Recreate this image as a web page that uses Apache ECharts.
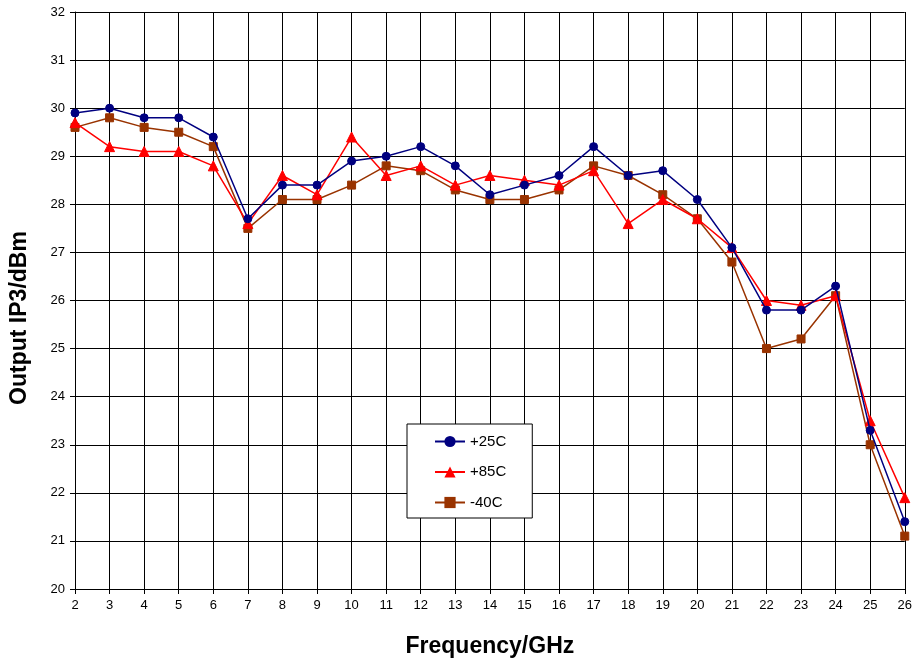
<!DOCTYPE html>
<html>
<head>
<meta charset="utf-8">
<script src="https://cdn.jsdelivr.net/npm/echarts@6/dist/echarts.min.js"></script>
<style>html,body{margin:0;padding:0;background:#fff;}#c{width:915px;height:665px;}</style>
</head>
<body>
<div id="c"></div>
<script>
const freq = [2,3,4,5,6,7,8,9,10,11,12,13,14,15,16,17,18,19,20,21,22,23,24,25,26];
const s25 = [29.9,30.0,29.8,29.8,29.4,27.7,28.4,28.4,28.9,29.0,29.2,28.8,28.2,28.4,28.6,29.2,28.6,28.7,28.1,27.1,25.8,25.8,26.3,23.3,21.4];
const s85 = [29.7,29.2,29.1,29.1,28.8,27.6,28.6,28.2,29.4,28.6,28.8,28.4,28.6,28.5,28.4,28.7,27.6,28.1,27.7,27.1,26.0,25.9,26.1,23.5,21.9];
const sm40 = [29.6,29.8,29.6,29.5,29.2,27.5,28.1,28.1,28.4,28.8,28.7,28.3,28.1,28.1,28.3,28.8,28.6,28.2,27.7,26.8,25.0,25.2,26.1,23.0,21.1];
const names = ['+25C','+85C','-40C'];
const colors = ['#000080','#FF0000','#993300'];
const symbols = ['circle','triangle','rect'];
const allData = [s25, s85, sm40];

const font = 'Liberation Sans, Arial, sans-serif';
const chart = echarts.init(document.getElementById('c'), null, {renderer:'canvas'});
chart.setOption({
  animation:false,
  backgroundColor:'#fff',
  grid:{left:75,right:10,top:12,bottom:76,containLabel:false},
  graphic:[{
    type:'text', x:20, y:318, rotation:Math.PI/2,
    style:{text:'Output IP3/dBm', font:'bold 23px ' + font, fill:'#000', align:'center', verticalAlign:'middle'}
  }],
  legend:{
    orient:'vertical', left:407, top:424,
    backgroundColor:'#fff', borderColor:'#000', borderWidth:1,
    padding:[10,26,8,27],
    itemWidth:30, itemHeight:14, itemGap:15.5,
    textStyle:{fontFamily:font,fontSize:15,color:'#000'},
    data:names
  },
  xAxis:{
    type:'value', min:2, max:26, interval:1,
    name:'Frequency/GHz', nameLocation:'middle', nameGap:46,
    nameTextStyle:{fontFamily:font,fontSize:23,fontWeight:'bold',color:'#000'},
    axisLine:{lineStyle:{color:'#000',width:1}},
    axisTick:{show:true,length:5,lineStyle:{color:'#000'}},
    axisLabel:{fontFamily:font,fontSize:13,color:'#000',margin:10},
    splitLine:{show:true,lineStyle:{color:'#000',width:1}}
  },
  yAxis:{
    type:'value', min:20, max:32, interval:1,
    axisLine:{show:true,lineStyle:{color:'#000',width:1}},
    axisTick:{show:true,length:5,lineStyle:{color:'#000'}},
    axisLabel:{fontFamily:font,fontSize:13,color:'#000',margin:10},
    splitLine:{show:true,lineStyle:{color:'#000',width:1}}
  },
  series: names.map((n,i)=>({
    name:n, type:'line',
    data: freq.map((f,j)=>[f, allData[i][j]]),
    symbol:symbols[i], symbolSize: i===1 ? 10 : 8,
    showAllSymbol:true,
    lineStyle:{color:colors[i],width:1.5},
    itemStyle:{color:colors[i],borderColor:colors[i]},
    z: 3-i
  }))
});
</script>
</body>
</html>
